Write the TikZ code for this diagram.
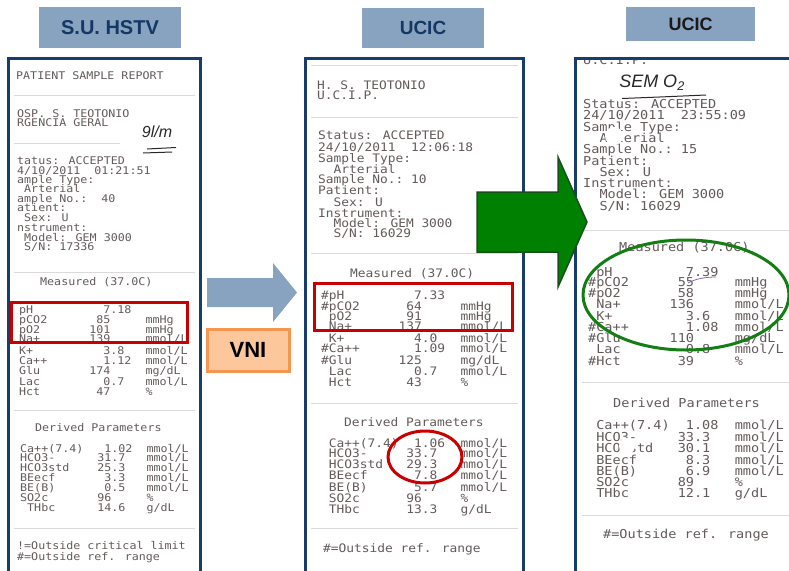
\documentclass[tikz,border=0pt]{standalone}
\usepackage{fontspec}
\newfontfamily\hfont{Liberation Sans}
\newfontfamily\rmono{DejaVu Sans Mono}[FakeStretch=1.1]
\newfontfamily\handfont{Liberation Sans}
\definecolor{hdrblue}{RGB}{135,163,192}
\definecolor{hdrtext}{RGB}{20,55,100}
\definecolor{navy}{RGB}{25,60,110}
\definecolor{ptext}{RGB}{100,90,90}
\definecolor{redmark}{RGB}{200,0,0}
\definecolor{gfill}{RGB}{0,128,0}
\definecolor{gline}{RGB}{25,80,25}
\definecolor{gring}{RGB}{20,125,20}
\definecolor{peach}{RGB}{252,200,155}
\definecolor{orangeb}{RGB}{245,150,80}
\definecolor{sepgray}{RGB}{218,218,218}
\definecolor{ink}{RGB}{40,40,40}
\definecolor{purpink}{RGB}{130,100,160}
\begin{document}
\begin{tikzpicture}[x=1pt,y=-1pt,
  hdr/.style={fill=hdrblue, inner sep=0, font=\hfont\bfseries\fontsize{#1}{#1}\selectfont},
  receipt/.style={draw=navy, line width=3pt, fill=white},
  sepline/.style={draw=sepgray, line width=0.7pt},
  ra/.style={anchor=base west, inner sep=0, text=ptext, text height=6.8pt, text depth=1.4pt, font=\rmono\fontsize{10.6}{10.6}\selectfont},
  rb/.style={anchor=base west, inner sep=0, text=ptext, text height=7.4pt, text depth=1.6pt, font=\rmono\fontsize{11.7}{11.7}\selectfont},
  rc/.style={anchor=base west, inner sep=0, text=ptext, text height=7.8pt, text depth=1.8pt, font=\rmono\fontsize{12.3}{12.3}\selectfont},
  hand/.style={inner sep=0, text=ink, font=\handfont\itshape\fontsize{#1}{#1}\selectfont},
  redbox/.style={draw=redmark, line width=3pt},
  ring/.style={line width=3pt},
]
\useasboundingbox (0,0) rectangle (789,570);
\fill[white] (0,0) rectangle (789,570);

% ---------------- headers
\node[hdr=20, text=hdrtext, minimum width=142pt, minimum height=41pt] (h1) at (110,27.5) {S.U. HSTV};
\node[hdr=19, text=hdrtext, minimum width=122pt, minimum height=40pt] (h2) at (423,28) {UCIC};
\node[hdr=18, text={black!90}, minimum width=129pt, minimum height=34pt] (h3) at (690.5,24) {UCIC};

% ---------------- receipt 1
\draw[receipt] (8,58) rectangle (200,590);
\foreach \ya/\yb in {95/195,272/195,410/195,528/195} \draw[sepline] (14,\ya) -- (\yb,\ya);
\draw[sepline] (14,143) -- (120,143);
\node[ra] (rAt1) at (16,79.9) {PATIENT SAMPLE REPORT};
\node[ra] (rAt2) at (17,117.9) {OSP. S. TEOTONIO};
\node[ra] (rAt3) at (17,126.9) {RGENCIA GERAL};
\foreach \yy/\txt [count=\i] in {
 161/{tatus: ACCEPTED},
 171/{4/10/2011~~01:21:51},
 180/{ample Type:},
 189/{~Arterial},
 199/{ample No.:~~40},
 208/{atient:},
 218/{~Sex: U},
 228/{nstrument:},
 238/{~Model: GEM 3000},
 247/{~S/N: 17336}}
 \node[ra] (rAs\i) at (17,\yy+3.9) {\txt};
\node[ra] (rAmeas) at (40,285.9) {Measured (37.0C)};
\foreach \yy/\txt [count=\i] in {
 310/{pH~~~~~~~~~~7.18},
 320/{pCO2~~~~~~~85~~~~~mmHg},
 330/{pO2~~~~~~~101~~~~~mmHg},
 339/{Na+~~~~~~~139~~~~~mmol/L},
 351/{K+~~~~~~~~~~3.8~~~mmol/L},
 361/{Ca++~~~~~~~~1.12~~mmol/L},
 371/{Glu~~~~~~~174~~~~~mg/dL},
 382/{Lac~~~~~~~~~0.7~~~mmol/L},
 392/{Hct~~~~~~~~47~~~~~\%}}
 \node[ra] (rAm\i) at (19,\yy+3.9) {\txt};
\node[ra] (rAder) at (35,431.9) {Derived Parameters};
\foreach \yy/\txt [count=\i] in {
 449/{Ca++(7.4)~~~1.02~~mmol/L},
 458/{HCO3-~~~~~~31.7~~~mmol/L},
 468/{HCO3std~~~~25.3~~~mmol/L},
 478/{BEecf~~~~~~~3.3~~~mmol/L},
 488/{BE(B)~~~~~~~0.5~~~mmol/L},
 498/{SO2c~~~~~~~96~~~~~\%},
 508/{~THbc~~~~~~14.6~~~g/dL}}
 \node[ra] (rAd\i) at (20,\yy+3.9) {\txt};
\node[ra] (rAf1) at (17,549.9) {!=Outside critical limit};
\node[ra] (rAf2) at (17,560.9) {\#=Outside ref. range};
\node[hand=16, anchor=center] (hw1) at (157,132) {9l/m};
\draw[ink, line width=1pt] (147,149) -- (176,147.5);
\draw[ink, line width=1pt] (143,153) -- (172,152);

% ---------------- receipt 2
\draw[receipt] (305,58) rectangle (523,590);
\foreach \ya in {65,117,253,403,528} \draw[sepline] (311,\ya) -- (518,\ya);
\node[rb] (rBt1) at (317,89.3) {H. S. TEOTONIO};
\node[rb] (rBt2) at (317,99.3) {U.C.I.P.};
\foreach \yy/\txt [count=\i] in {
 135/{Status: ACCEPTED},
 147/{24/10/2011~~12:06:18},
 158/{Sample Type:},
 169/{~~Arterial},
 179/{Sample No.:~10},
 190/{Patient:},
 202/{~~Sex: U},
 213/{Instrument:},
 223/{~~Model: GEM 3000},
 233/{~~S/N: 16029}}
 \node[rb] (rBs\i) at (318,\yy+4.3) {\txt};
\node[rb] (rBmeas) at (350,277.3) {Measured (37.0C)};
\foreach \yy/\txt [count=\i] in {
 295/{\#pH~~~~~~~~~7.33},
 306/{\#pCO2~~~~~~64~~~~~mmHg},
 316/{~pO2~~~~~~~91~~~~~mmHg},
 326/{~Na+~~~~~~137~~~~~mmol/L},
 338/{~K+~~~~~~~~~4.0~~~mmol/L},
 348/{\#Ca++~~~~~~~1.09~~mmol/L},
 360/{\#Glu~~~~~~125~~~~~mg/dL},
 371/{~Lac~~~~~~~~0.7~~~mmol/L},
 382/{~Hct~~~~~~~43~~~~~\%}}
 \node[rb] (rBm\i) at (321,\yy+4.3) {\txt};
\node[rb] (rBder) at (344,426.3) {Derived Parameters};
\foreach \yy/\txt [count=\i] in {
 443/{~Ca++(7.4)~~1.06~~mmol/L},
 453/{~HCO3-~~~~~33.7~~~mmol/L},
 464/{~HCO3std~~~29.3~~~mmol/L},
 475/{~BEecf~~~~~~7.8~~~mmol/L},
 487/{~BE(B)~~~~~~5.7~~~mmol/L},
 498/{~SO2c~~~~~~96~~~~~\%},
 509/{~THbc~~~~~~13.3~~~g/dL}}
 \node[rb] (rBd\i) at (321,\yy+4.3) {\txt};
\node[rb] (rBf) at (323,552.3) {\#=Outside ref. range};

% ---------------- receipt 3
\fill[white] (575,58) rectangle (800,590);
\begin{scope}
\clip (576,59.5) rectangle (800,570);
\foreach \ya in {230,382,515} \draw[sepline] (582,\ya) -- (789,\ya);
\node[rc] (rCt1) at (583,64.5) {U.C.I.P.};
\foreach \yy/\txt [count=\i] in {
 104/{Status: ACCEPTED},
 115/{24/10/2011~~23:55:09},
 127/{Sample Type:},
 138/{~~Arterial},
 149/{Sample No.:~15},
 161/{Patient:},
 172/{~~Sex: U},
 183/{Instrument:},
 194/{~~Model: GEM 3000},
 206/{~~S/N: 16029}}
 \node[rc] (rCs\i) at (583,\yy+4.5) {\txt};
\node[rc] (rCmeas) at (619,251.5) {Measured (37.0C)};
\foreach \yy/\txt [count=\i] in {
 272/{~pH~~~~~~~~~7.39},
 282/{\#pCO2~~~~~~55~~~~~mmHg},
 293/{\#pO2~~~~~~~58~~~~~mmHg},
 304/{~Na+~~~~~~136~~~~~mmol/L},
 316/{~K+~~~~~~~~~3.6~~~mmol/L},
 327/{\#Ca++~~~~~~~1.08~~mmol/L},
 338/{\#Glu~~~~~~110~~~~~mg/dL},
 349/{~Lac~~~~~~~~0.8~~~mmol/L},
 361/{\#Hct~~~~~~~39~~~~~\%}}
 \node[rc] (rCm\i) at (588,\yy+4.5) {\txt};
\node[rc] (rCder) at (613,407.5) {Derived Parameters};
\foreach \yy/\txt [count=\i] in {
 425/{~Ca++(7.4)~~1.08~~mmol/L},
 437/{~HCO3-~~~~~33.3~~~mmol/L},
 448/{~HCO3std~~~30.1~~~mmol/L},
 460/{~BEecf~~~~~~8.3~~~mmol/L},
 471/{~BE(B)~~~~~~6.9~~~mmol/L},
 482/{~SO2c~~~~~~89~~~~~\%},
 493/{~THbc~~~~~~12.1~~~g/dL}}
 \node[rc] (rCd\i) at (588,\yy+4.5) {\txt};
\node[rc] (rCf) at (603,538.5) {\#=Outside ref. range};
\fill[white] (614,136) circle (9);
\fill[white] (627,446) circle (8);
\node[hand=18, anchor=center] (hw2) at (652,83) {SEM O\textsubscript{2}};
\draw[ink, line width=1pt] (622,98.5) .. controls (660,97) .. (706,95);
\draw[purpink, line width=0.8pt] (688,283) .. controls (695,279) and (705,277) .. (716,277);
\end{scope}
\draw[receipt, fill=none] (575,58) rectangle (800,590);

% ---------------- marks
\draw[redbox] (11,302) rectangle (187,342);
\draw[redbox] (314,283) rectangle (512,330);
\draw[ring, draw=redmark] (425,457) ellipse [x radius=37, y radius=26];
\draw[ring, draw=gring] (686,295) ellipse [x radius=103, y radius=55];

% ---------------- arrows and VNI
\fill[hdrblue] (207,278) -- (273,278) -- (273,263) -- (297,292.5) -- (273,322) -- (273,307) -- (207,307) -- cycle;
\node[draw=orangeb, line width=3pt, fill=peach, minimum width=82pt, minimum height=42pt, inner sep=0,
      font=\hfont\bfseries\fontsize{22}{22}\selectfont] (vni) at (248,350) {VNI};
\filldraw[fill=gfill, draw=gline, line width=1.5pt, line join=miter]
  (477,192) -- (558,192) -- (558,157) -- (587,222) -- (558,287) -- (558,252) -- (477,252) -- cycle;
\end{tikzpicture}
\end{document}
